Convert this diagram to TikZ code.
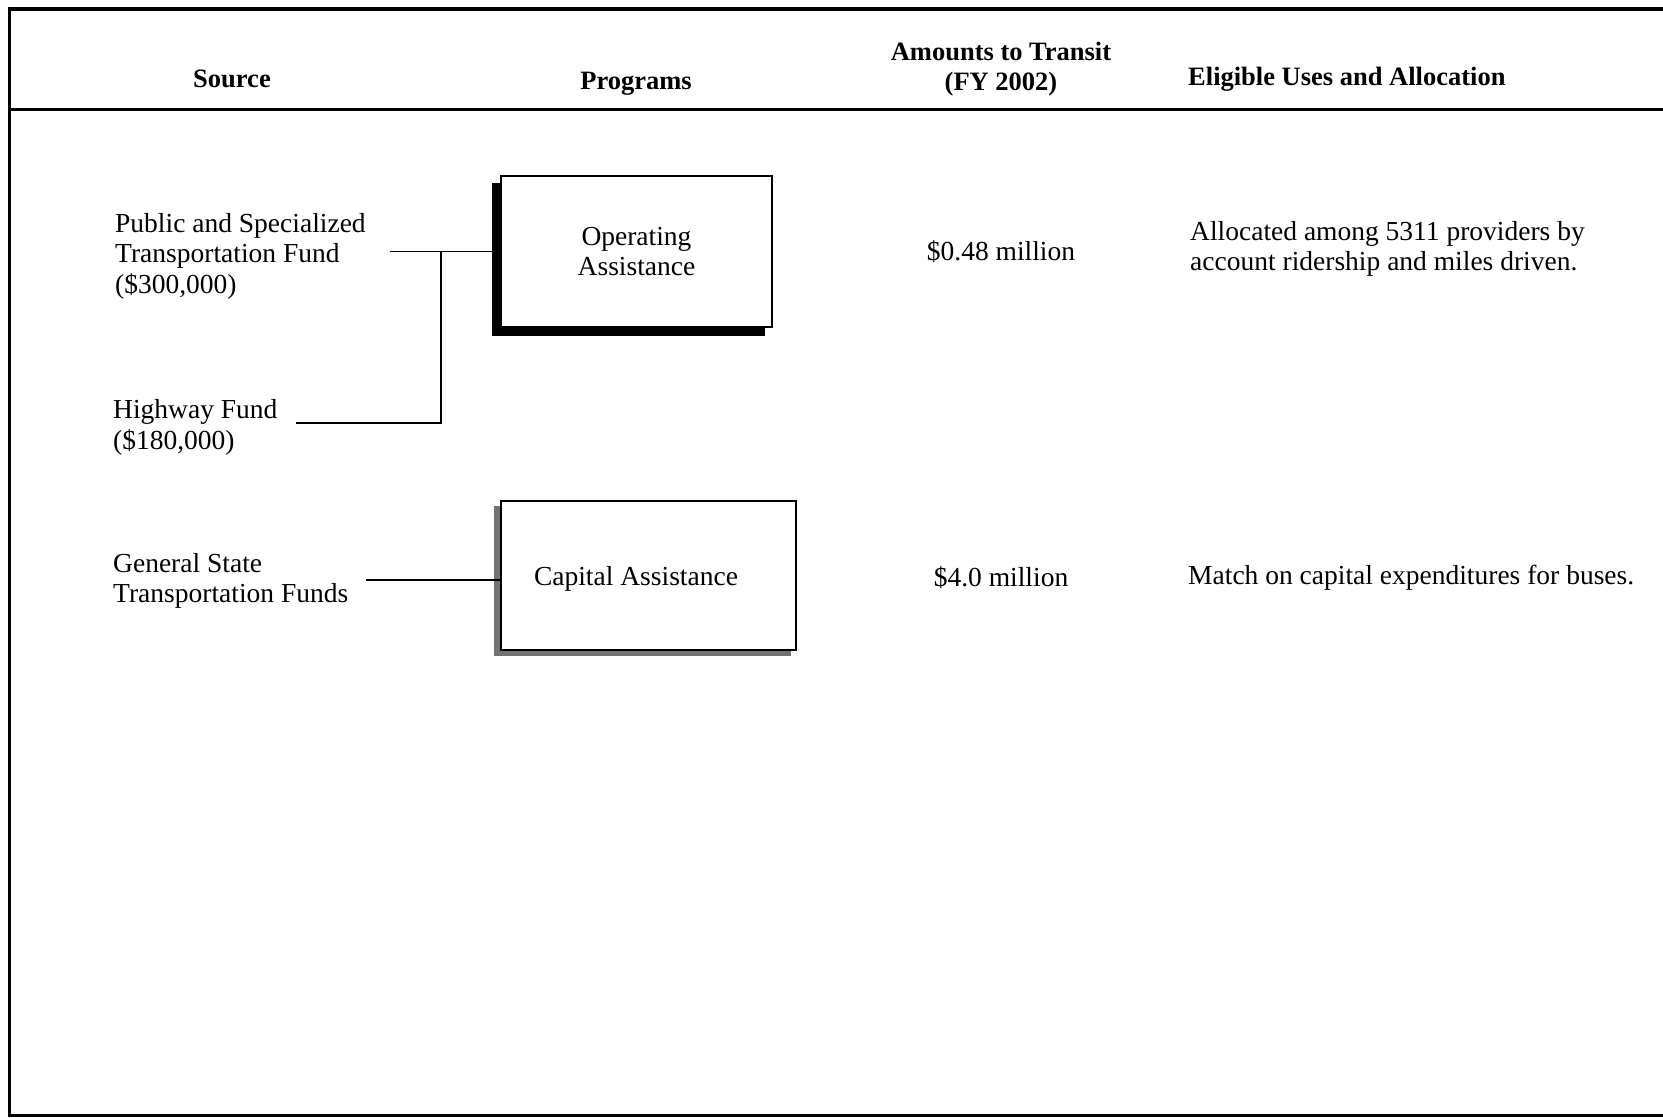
\documentclass[tikz,border=0pt]{standalone}
\usepackage{fontspec}
\setmainfont{Liberation Serif}
\usetikzlibrary{backgrounds}
\begin{document}
\begin{tikzpicture}[x=1pt,y=-1pt,
  txt/.style={inner sep=0pt,align=left,font=\fontsize{27.5}{30.5}\selectfont},
  hdr/.style={inner sep=0pt,align=center,font=\fontsize{26.5}{30}\selectfont\bfseries},
  prog/.style={draw=black,line width=1.3pt,fill=white,inner sep=0pt,align=center,font=\fontsize{27.5}{30.5}\selectfont},
  conn/.style={line width=1.2pt},
  frame/.style={line width=3.5pt}]
\useasboundingbox (0,0) rectangle (1663,1117);
% frame
\draw[frame] (8,9) -- (1663,9);
\draw[line width=2.5pt] (9.5,8) -- (9.5,1117);
\draw[line width=3pt] (8,109) -- (1663,109);
\draw[line width=3.5pt] (8,1115.5) -- (1663,1115.5);
% headers
\node[hdr] (hsrc) at (232,79) {Source};
\node[hdr] (hprog) at (636,83.5) {Programs};
\node[hdr] (hamt) at (1001,69) {Amounts to Transit\\(FY 2002)};
\node[hdr,anchor=west] (helig) at (1188,79) {Eligible Uses and Allocation};
% sources
\node[txt,anchor=west] (ps) at (115,256) {Public and Specialized\\Transportation Fund\\(\$300,000)};
\node[txt,anchor=west] (hw) at (113,427.5) {Highway Fund\\(\$180,000)};
\node[txt,anchor=west] (gs) at (113,581) {General State\\Transportation Funds};
% program boxes
\node[prog,minimum width=271pt,minimum height=151pt] (op) at (636.5,251.5) {\rule{0pt}{6pt}Operating\\Assistance};
\node[prog,minimum width=295pt,minimum height=149pt] (cap) at (648.5,575.5) {};
\node[txt] (captxt) at (636,579) {Capital Assistance};
\begin{scope}[on background layer]
  \fill[black] ([shift={(-8,8)}]op.north west) rectangle ([shift={(-8,8)}]op.south east);
  \fill[black!55] ([shift={(-6.5,6)}]cap.north west) rectangle ([shift={(-5.5,5)}]cap.south east);
\end{scope}
% connectors
\coordinate (j) at (441,251.5);
\draw[conn] ([xshift=24pt]ps.east |- op.west) -- (op.west);
\draw[conn] ([xshift=18pt]hw.east |- 0,423) -| (j);
\draw[conn] ([xshift=18pt]gs.east |- 0,580) -- (cap.west |- 0,580);
% amounts
\node[txt] (a1) at (1001,252) {\$0.48 million};
\node[txt] (a2) at (1001,578) {\$4.0 million};
% eligible uses
\node[txt,anchor=west] (e1) at (1190,249) {Allocated among 5311 providers by\\account ridership and miles driven.};
\node[txt,anchor=west] (e2) at (1188,578) {Match on capital expenditures for buses.};
\end{tikzpicture}
\end{document}
